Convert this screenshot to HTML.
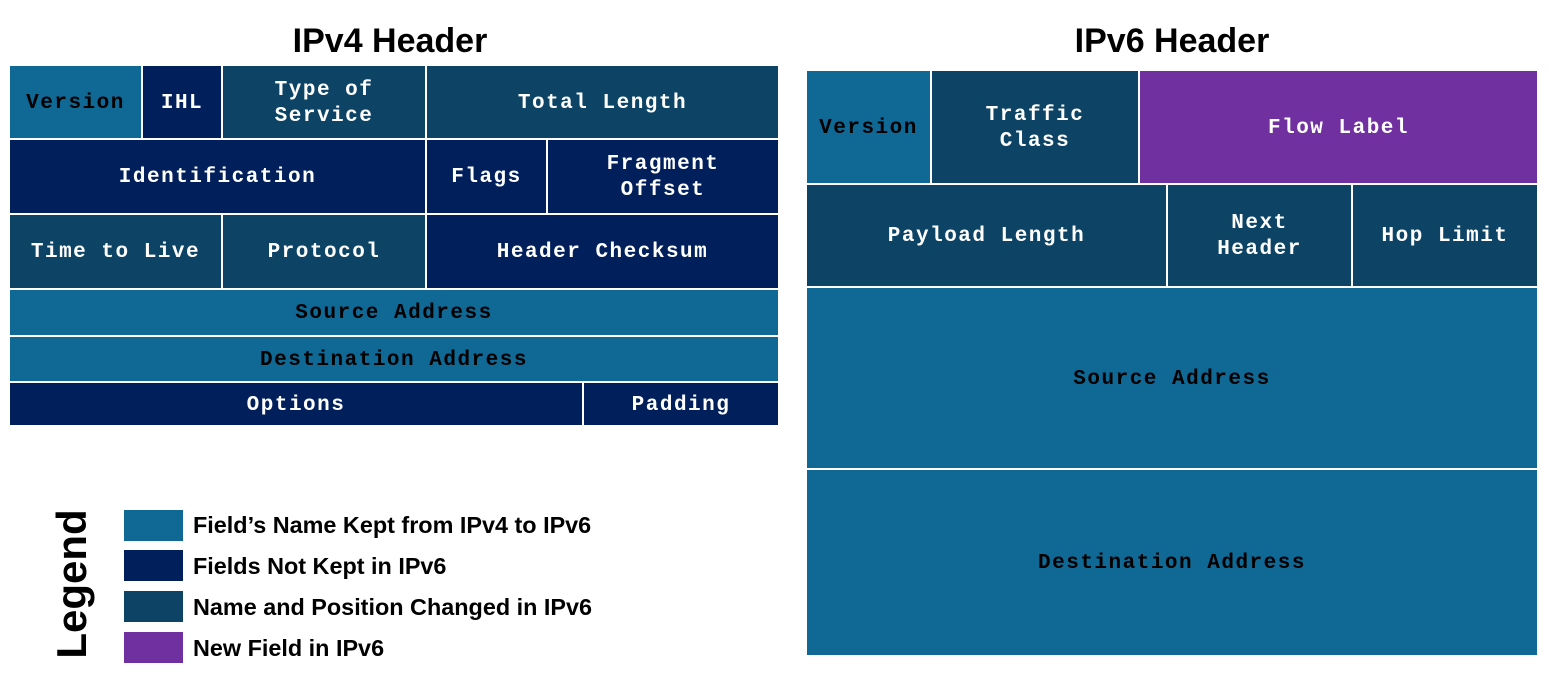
<!DOCTYPE html>
<html><head><meta charset="utf-8"><style>
body{margin:0;width:1549px;height:682px;background:#fff;position:relative;overflow:hidden;font-family:"Liberation Sans",Arial,sans-serif}
.b{position:absolute;display:flex;align-items:center;justify-content:center;text-align:center;font-family:"Courier New","Liberation Mono",monospace;font-weight:bold;font-size:21px;letter-spacing:1.5px;line-height:26px;color:#fff;box-sizing:border-box;padding-top:3px}
.L{background:#106895;color:#000}
.N{background:#001f5b}
.T{background:#0d4465}
.P{background:#7030a0}
.t{position:absolute;font-weight:bold;font-size:34px;color:#000}
.sw{position:absolute;left:124px;width:59px;height:31px}
.lt{position:absolute;left:193px;font-weight:bold;font-size:23.4px;line-height:31px;color:#000;white-space:nowrap}
</style></head><body>
<div class="t" style="left:290px;top:22px;width:200px;text-align:center">IPv4 Header</div>
<div class="t" style="left:1060px;top:22px;width:224px;text-align:center">IPv6 Header</div>

<div class="b L" style="left:10px;top:66px;width:131px;height:72px">Version</div>
<div class="b N" style="left:143px;top:66px;width:78px;height:72px">IHL</div>
<div class="b T" style="left:223px;top:66px;width:202px;height:72px">Type of<br>Service</div>
<div class="b T" style="left:427px;top:66px;width:351px;height:72px">Total Length</div>
<div class="b N" style="left:10px;top:140px;width:415px;height:73px">Identification</div>
<div class="b N" style="left:427px;top:140px;width:119px;height:73px">Flags</div>
<div class="b N" style="left:548px;top:140px;width:230px;height:73px">Fragment<br>Offset</div>
<div class="b T" style="left:10px;top:215px;width:211px;height:73px">Time to Live</div>
<div class="b T" style="left:223px;top:215px;width:202px;height:73px">Protocol</div>
<div class="b N" style="left:427px;top:215px;width:351px;height:73px">Header Checksum</div>
<div class="b L" style="left:10px;top:290px;width:768px;height:45px">Source Address</div>
<div class="b L" style="left:10px;top:337px;width:768px;height:44px">Destination Address</div>
<div class="b N" style="left:10px;top:383px;width:572px;height:42px">Options</div>
<div class="b N" style="left:584px;top:383px;width:194px;height:42px">Padding</div>

<div class="b L" style="left:807px;top:71px;width:123px;height:112px">Version</div>
<div class="b T" style="left:932px;top:71px;width:206px;height:112px">Traffic<br>Class</div>
<div class="b P" style="left:1140px;top:71px;width:397px;height:112px">Flow Label</div>
<div class="b T" style="left:807px;top:185px;width:359px;height:101px">Payload Length</div>
<div class="b T" style="left:1168px;top:185px;width:183px;height:101px">Next<br>Header</div>
<div class="b T" style="left:1353px;top:185px;width:184px;height:101px">Hop Limit</div>
<div class="b L" style="left:807px;top:288px;width:730px;height:180px">Source Address</div>
<div class="b L" style="left:807px;top:470px;width:730px;height:185px">Destination Address</div>

<div style="position:absolute;left:72px;top:584px;transform:translate(-50%,-50%) rotate(-90deg);font-weight:bold;font-size:42px;line-height:42px;white-space:nowrap">Legend</div>
<div class="sw L" style="top:510px"></div><div class="lt" style="top:510px">Field’s Name Kept from IPv4 to IPv6</div>
<div class="sw N" style="top:550px"></div><div class="lt" style="top:551px">Fields Not Kept in IPv6</div>
<div class="sw T" style="top:591px"></div><div class="lt" style="top:592px">Name and Position Changed in IPv6</div>
<div class="sw P" style="top:632px"></div><div class="lt" style="top:633px">New Field in IPv6</div>
</body></html>
